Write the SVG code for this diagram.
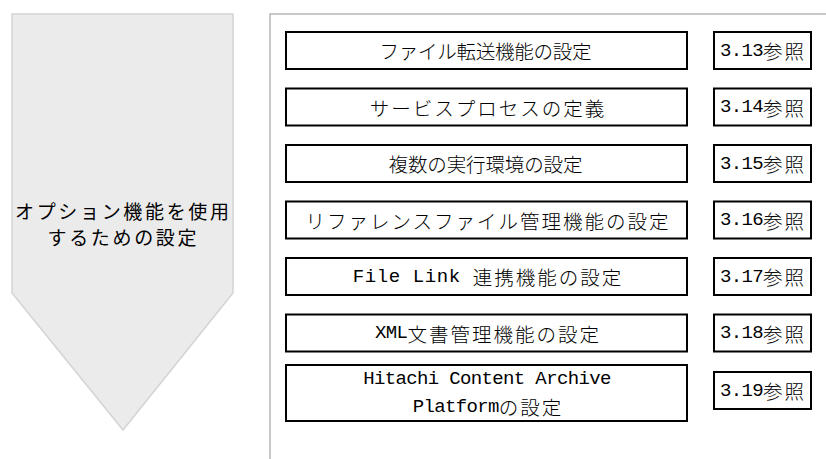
<svg xmlns="http://www.w3.org/2000/svg" width="826" height="459" viewBox="0 0 826 459">
<style>
.box{fill:#fff;stroke:#000;stroke-width:2}
.t{font-family:"Noto Sans CJK JP",sans-serif;font-size:19.5px;font-weight:300;letter-spacing:2px;fill:#000;text-anchor:middle;dominant-baseline:central}
.a{font-family:"Liberation Mono",monospace;font-size:19px;font-weight:400;letter-spacing:-0.65px}
.l{font-family:"Noto Sans CJK JP",sans-serif;font-size:19px;fill:#000;text-anchor:middle;dominant-baseline:central}
</style>
<rect width="826" height="459" fill="#fff"/>
<g id="arrow">
<polygon points="12,14 233,14 233,293 123,430 12,293" fill="#ebebeb" stroke="#d4d4d4" stroke-width="1.5"/>
<text class="l" x="122" y="210" textLength="214" lengthAdjust="spacing">オプション機能を使用</text>
<text class="l" x="122" y="236" textLength="149" lengthAdjust="spacing">するための設定</text>
</g>
<g id="frame">
<polyline points="270,459 270,14 826,14" fill="none" stroke="#c8c8c8" stroke-width="2"/>
</g>
<g id="n1"><rect class="box" x="286" y="32" width="401" height="37"/><text class="t" x="486.5" y="50.5" textLength="214" lengthAdjust="spacing">ファイル転送機能の設定</text></g>
<g id="r1"><rect class="box" x="714" y="32" width="97" height="37"/><text class="t" x="763" y="50.5"><tspan class="a">3.13</tspan>参照</text></g>
<g id="n2"><rect class="box" x="286" y="88.5" width="401" height="37"/><text class="t" x="488" y="107">サービスプロセスの定義</text></g>
<g id="r2"><rect class="box" x="714" y="88.5" width="97" height="37"/><text class="t" x="763" y="107"><tspan class="a">3.14</tspan>参照</text></g>
<g id="n3"><rect class="box" x="286" y="145" width="401" height="37"/><text class="t" x="486.5" y="163.5" textLength="196" lengthAdjust="spacing">複数の実行環境の設定</text></g>
<g id="r3"><rect class="box" x="714" y="145" width="97" height="37"/><text class="t" x="763" y="163.5"><tspan class="a">3.15</tspan>参照</text></g>
<g id="n4"><rect class="box" x="286" y="201.5" width="401" height="37"/><text class="t" x="488" y="220">リファレンスファイル管理機能の設定</text></g>
<g id="r4"><rect class="box" x="714" y="201.5" width="97" height="37"/><text class="t" x="763" y="220"><tspan class="a">3.16</tspan>参照</text></g>
<g id="n5"><rect class="box" x="286" y="258" width="401" height="37"/><text class="t" x="488" y="276.5"><tspan class="a" style="letter-spacing:0.6px">File Link </tspan>連携機能の設定</text></g>
<g id="r5"><rect class="box" x="714" y="258" width="97" height="37"/><text class="t" x="763" y="276.5"><tspan class="a">3.17</tspan>参照</text></g>
<g id="n6"><rect class="box" x="286" y="314.5" width="401" height="37"/><text class="t" x="488" y="333"><tspan class="a">XML</tspan>文書管理機能の設定</text></g>
<g id="r6"><rect class="box" x="714" y="314.5" width="97" height="37"/><text class="t" x="763" y="333"><tspan class="a">3.18</tspan>参照</text></g>
<g id="n7"><rect class="box" x="286" y="365" width="401" height="56"/><text class="t" x="487" y="379"><tspan class="a">Hitachi Content Archive</tspan></text><text class="t" x="488" y="406.5"><tspan class="a">Platform</tspan>の設定</text></g>
<g id="r7"><rect class="box" x="714" y="372" width="97" height="37"/><text class="t" x="763" y="390.5"><tspan class="a">3.19</tspan>参照</text></g>
</svg>
